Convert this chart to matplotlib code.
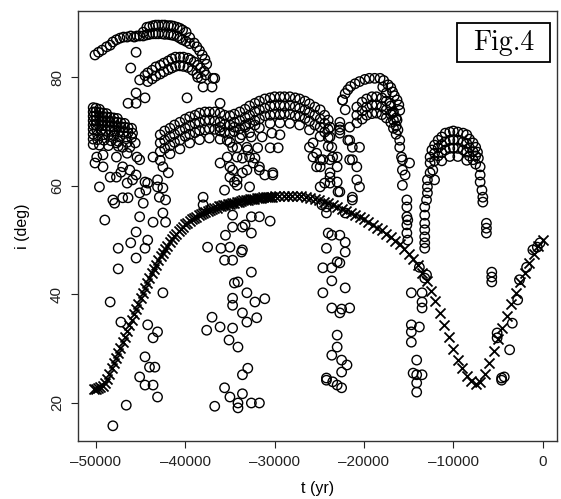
import numpy as np
import matplotlib
matplotlib.use('Agg')
import matplotlib.pyplot as plt
from matplotlib.patches import Rectangle

plt.rcParams['font.family'] = ['Liberation Sans', 'DejaVu Sans']

# crosses: (t in kyr, inclination in deg)
cross_pts = [
    (-50.25, 22.6), (-50.0, 22.6), (-49.75, 22.7), (-49.5, 22.9), (-49.25, 23.2), (-49.0, 23.7),
    (-48.75, 24.5), (-48.5, 25.4), (-48.25, 26.4), (-48.0, 27.3), (-47.75, 28.3), (-47.5, 29.2),
    (-47.25, 30.2), (-47.0, 31.2), (-46.75, 32.2), (-46.5, 33.2), (-46.25, 34.3), (-46.0, 35.3),
    (-45.75, 36.3), (-45.5, 37.3), (-45.25, 38.3), (-45.0, 39.3), (-44.75, 40.2), (-44.5, 41.2),
    (-44.25, 42.1), (-44.0, 43.0), (-43.75, 43.9), (-43.5, 44.7), (-43.25, 45.5), (-43.0, 46.3),
    (-42.75, 47.0), (-42.5, 47.7), (-42.25, 48.4), (-42.0, 49.0), (-41.75, 49.6), (-41.5, 50.2),
    (-41.25, 50.7), (-41.0, 51.2), (-40.75, 51.7), (-40.5, 52.1), (-40.25, 52.5), (-40.0, 52.9),
    (-39.75, 53.2), (-39.5, 53.5), (-39.25, 53.8), (-39.0, 54.1), (-38.75, 54.3), (-38.5, 54.6),
    (-38.25, 54.8), (-38.0, 55.0), (-37.75, 55.2), (-37.5, 55.4), (-37.25, 55.6), (-37.0, 55.7),
    (-36.75, 55.9), (-36.5, 56.0), (-36.25, 56.2), (-36.0, 56.3), (-35.75, 56.4), (-35.5, 56.5),
    (-35.25, 56.6), (-35.0, 56.7), (-34.75, 56.8), (-34.5, 56.9), (-34.25, 57.0), (-34.0, 57.1),
    (-33.75, 57.2), (-33.5, 57.3), (-33.25, 57.3), (-33.0, 57.4), (-32.75, 57.5), (-32.5, 57.6),
    (-32.25, 57.6), (-32.0, 57.7), (-31.75, 57.8), (-31.5, 57.8), (-31.25, 57.9), (-31.0, 57.9),
    (-30.75, 58.0), (-30.5, 58.0), (-30.25, 58.0), (-30.0, 58.1),
    (-29.5, 58.1), (-29.0, 58.2), (-28.5, 58.2), (-28.0, 58.2), (-27.5, 58.2), (-27.0, 58.1),
    (-26.5, 58.0), (-26.0, 57.8), (-25.5, 57.6), (-25.0, 57.4), (-24.5, 57.1), (-24.0, 56.8),
    (-23.5, 56.5), (-23.0, 56.1), (-22.5, 55.8), (-22.0, 55.4), (-21.5, 55.0), (-21.0, 54.6),
    (-20.5, 54.2), (-20.0, 53.8), (-19.5, 53.3), (-19.0, 52.8), (-18.5, 52.3), (-18.0, 51.8),
    (-17.5, 51.2), (-17.0, 50.6), (-16.5, 49.9), (-16.0, 49.2), (-15.5, 48.4), (-15.0, 47.5),
    (-14.5, 46.5), (-14.0, 45.4), (-13.5, 44.0), (-13.0, 42.4), (-12.5, 40.6), (-12.0, 38.7),
    (-11.5, 36.6), (-11.0, 34.4), (-10.5, 32.1), (-10.0, 29.9), (-9.5, 28.0), (-9.0, 26.4),
    (-8.5, 25.0), (-8.0, 24.0), (-7.5, 23.5), (-7.0, 23.9), (-6.5, 25.3), (-6.0, 27.3),
    (-5.5, 29.5), (-5.0, 31.7), (-4.5, 33.9), (-4.0, 36.1), (-3.5, 38.3), (-3.0, 40.3),
    (-2.5, 42.2), (-2.0, 44.0), (-1.5, 45.8), (-1.0, 47.4), (-0.5, 48.9), (0.0, 50.0),
]

# open circles, grouped by region
top_arc = [
    (-50.1, 84.1), (-49.7, 84.6), (-49.3, 85.0), (-48.8, 85.6), (-48.4, 85.9), (-48.1, 86.5),
    (-47.7, 86.9), (-47.3, 87.2), (-46.9, 87.4), (-46.5, 87.4), (-46.1, 87.6), (-45.7, 87.4),
    (-45.4, 87.6), (-45.1, 87.6), (-44.7, 88.3), (-44.3, 89.2),
    (-44.0, 89.3), (-43.6, 89.5), (-43.3, 89.6), (-43.0, 89.6), (-42.6, 89.6), (-42.3, 89.6),
    (-41.9, 89.5), (-41.6, 89.5), (-41.3, 89.4), (-40.9, 89.2), (-40.6, 89.0), (-40.3, 88.7), (-39.9, 88.3),
    (-44.7, 87.6), (-44.3, 87.8), (-44.0, 87.9), (-43.6, 88.0), (-43.3, 88.0), (-43.0, 88.0),
    (-42.6, 88.0), (-42.3, 87.9), (-41.9, 87.9), (-41.6, 87.8), (-41.3, 87.7), (-40.9, 87.5),
    (-40.6, 87.2), (-40.3, 86.9), (-39.9, 86.6), (-39.5, 86.2),
    (-39.5, 87.3), (-39.0, 86.3), (-38.7, 85.6), (-38.4, 84.9), (-38.1, 84.1), (-37.8, 83.3), (-37.6, 82.4),
]
second_arc = [
    (-45.1, 79.5), (-44.5, 80.3), (-44.2, 80.8), (-43.7, 81.3), (-43.3, 81.9), (-42.8, 82.2),
    (-42.4, 82.6), (-41.9, 83.0), (-41.5, 83.4), (-41.1, 83.7), (-40.6, 83.7), (-40.2, 83.7),
    (-39.7, 83.5), (-39.4, 83.2), (-39.0, 82.8), (-38.6, 82.2), (-38.3, 81.7), (-37.9, 81.1), (-37.7, 80.4),
    (-44.2, 79.2), (-43.7, 79.7), (-43.3, 80.2), (-42.8, 80.6), (-42.4, 81.0), (-41.9, 81.4),
    (-41.5, 81.7), (-41.1, 82.0), (-40.6, 82.1), (-40.2, 82.0), (-39.7, 81.8), (-39.2, 81.3),
    (-38.7, 80.6), (-38.2, 79.8),
]
upper_misc = [
    (-38.6, 80.0), (-36.9, 79.8), (-38.0, 78.2), (-37.0, 78.2), (-45.5, 84.6), (-46.1, 81.7),
    (-46.4, 75.2), (-45.5, 75.2), (-45.5, 77.1), (-44.5, 76.2), (-39.8, 76.2), (-36.1, 75.2), (-36.7, 79.8),
]
left_wedge = [
    (-50.3, 74.4), (-50.0, 74.3), (-49.6, 74.1),
    (-50.3, 73.6), (-50.0, 73.6), (-49.6, 73.5), (-49.2, 73.4), (-48.8, 73.3),
    (-50.3, 72.8), (-50.0, 72.9), (-49.6, 72.8), (-49.2, 72.7), (-48.8, 72.7), (-48.4, 72.6),
    (-48.0, 72.5), (-47.6, 72.4),
    (-50.3, 72.0), (-50.0, 72.1), (-49.6, 72.0), (-49.2, 71.9), (-48.8, 71.9), (-48.4, 71.8),
    (-48.0, 71.8), (-47.6, 71.7), (-47.2, 71.6), (-46.8, 71.5),
    (-50.3, 71.2), (-50.0, 71.2), (-49.6, 71.1), (-49.2, 71.1), (-48.8, 71.0), (-48.4, 71.0),
    (-48.0, 70.9), (-47.6, 70.9), (-47.2, 70.8), (-46.8, 70.8), (-46.4, 70.7), (-46.0, 70.6),
    (-50.3, 70.4), (-49.9, 70.3), (-49.4, 70.3), (-48.9, 70.2), (-48.4, 70.2), (-47.9, 70.1),
    (-47.4, 70.0), (-46.9, 69.9), (-46.4, 69.8), (-45.9, 69.7),
    (-50.3, 69.5), (-49.8, 69.4), (-49.2, 69.4), (-48.6, 69.3), (-48.0, 69.2), (-47.3, 69.1),
    (-46.6, 69.0), (-46.0, 68.9),
    (-50.3, 68.6), (-49.8, 68.5), (-49.1, 68.4), (-48.3, 68.3), (-47.5, 68.2), (-46.5, 68.0),
    (-50.3, 67.6), (-49.6, 67.5), (-48.6, 67.4), (-47.5, 67.3),
]
left_scatter = [
    (-49.9, 65.3), (-50.1, 64.2), (-49.2, 65.7), (-47.7, 67.9), (-47.0, 67.1), (-46.2, 67.1),
    (-45.6, 67.9), (-47.7, 65.3), (-46.5, 66.0), (-45.4, 65.3), (-49.2, 63.5), (-47.0, 63.5),
    (-46.2, 62.9), (-45.1, 64.8), (-47.7, 61.6), (-49.6, 59.8), (-48.4, 61.6), (-46.5, 60.5),
    (-45.9, 61.1), (-48.1, 57.4), (-47.0, 57.8), (-45.1, 58.7), (-44.7, 56.8), (-44.2, 60.5),
    (-43.1, 61.1), (-42.5, 59.6), (-42.9, 57.9), (-42.5, 63.5), (-43.6, 65.3), (-47.2, 62.5),
    (-45.5, 62.0), (-44.5, 60.7), (-44.4, 59.2), (-43.1, 59.8), (-41.9, 62.4), (-47.9, 56.8),
    (-46.4, 57.8), (-42.2, 57.4), (-49.0, 53.7), (-45.1, 54.3), (-43.6, 53.3), (-42.5, 55.0),
    (-42.2, 53.3), (-45.5, 51.5), (-46.1, 49.5), (-44.2, 50.0), (-47.5, 48.5), (-44.5, 48.5),
    (-45.5, 46.7), (-47.5, 44.7), (-48.4, 38.6), (-42.5, 40.3),
    (-47.2, 34.9), (-44.2, 34.4), (-43.1, 33.1), (-43.6, 32.0), (-44.5, 28.5), (-44.0, 26.6),
    (-43.4, 26.6), (-45.1, 24.8), (-44.5, 23.3), (-43.6, 23.3), (-43.1, 21.1), (-46.6, 19.6),
    (-48.1, 15.8),
]
mid_scatter = [
    (-38.0, 57.9), (-38.0, 56.5), (-35.6, 59.2), (-34.5, 60.7), (-35.0, 61.6), (-37.5, 48.7),
    (-36.0, 48.5), (-35.0, 48.7), (-35.6, 46.3), (-34.7, 46.3), (-34.5, 42.1), (-34.7, 39.3),
    (-34.7, 38.0), (-35.5, 50.9), (-33.7, 47.8), (-32.6, 44.1), (-34.1, 42.3), (-33.1, 40.3),
    (-33.6, 36.6), (-32.2, 38.6), (-31.1, 39.2), (-32.0, 35.7), (-33.1, 34.9), (-37.0, 35.8),
    (-37.6, 33.4), (-36.1, 34.0), (-34.7, 33.8), (-35.1, 31.6), (-34.1, 30.3), (-33.0, 26.4),
    (-33.6, 25.2), (-35.6, 22.8), (-35.0, 21.1), (-36.7, 19.4), (-34.1, 20.0), (-34.1, 19.1),
    (-33.6, 21.7), (-32.6, 20.0), (-31.7, 20.0), (-34.7, 54.6), (-34.7, 52.4), (-33.6, 52.4),
    (-32.6, 51.3), (-32.6, 54.3), (-31.7, 54.3), (-30.5, 53.5), (-33.3, 52.8), (-33.6, 48.2),
]
band_rows = [
    (-42.8, 69.4), (-42.3, 70.1), (-41.7, 70.6), (-41.2, 71.2), (-40.6, 71.7), (-40.0, 72.3),
    (-39.5, 72.7), (-38.9, 73.0), (-38.4, 73.4), (-37.8, 73.6), (-37.3, 73.6), (-36.7, 73.6),
    (-36.1, 73.4), (-35.6, 73.0), (-35.0, 72.9), (-34.5, 73.2), (-33.9, 73.6), (-33.3, 74.1),
    (-32.8, 74.7), (-32.2, 75.2), (-31.7, 75.6), (-31.1, 76.0), (-30.5, 76.2), (-30.0, 76.4),
    (-29.4, 76.4), (-28.9, 76.4), (-28.3, 76.4), (-27.7, 76.2), (-27.2, 76.0), (-26.6, 75.6),
    (-26.1, 75.1), (-25.5, 74.5), (-24.9, 74.0), (-24.4, 73.0), (-24.0, 72.1),
    (-42.8, 67.9), (-42.3, 68.4), (-41.7, 69.1), (-41.2, 69.5), (-40.6, 70.2), (-40.0, 70.6),
    (-39.5, 71.1), (-38.9, 71.5), (-38.4, 71.7), (-37.8, 72.0), (-37.3, 72.1), (-36.7, 71.9),
    (-36.1, 71.8), (-35.6, 71.3), (-35.0, 71.2), (-34.5, 71.7), (-33.9, 72.0), (-33.3, 72.6),
    (-32.8, 73.0), (-32.2, 73.7), (-31.7, 74.0), (-31.1, 74.3), (-30.5, 74.7), (-30.0, 74.8),
    (-29.4, 74.9), (-28.9, 74.7), (-28.3, 74.8), (-27.7, 74.6), (-27.2, 74.3), (-26.6, 74.0),
    (-26.1, 73.5), (-25.5, 73.0), (-24.9, 72.3), (-24.4, 71.5), (-24.0, 70.4),
    (-42.8, 66.3), (-42.3, 66.9), (-41.7, 67.4), (-41.2, 68.0), (-40.6, 68.4), (-40.0, 69.1),
    (-39.5, 69.5), (-38.9, 69.8), (-38.4, 70.2), (-37.8, 70.3), (-37.3, 70.5), (-36.7, 70.4),
    (-36.1, 70.1), (-35.6, 69.8), (-35.0, 69.7), (-34.5, 70.0), (-33.9, 70.5), (-33.3, 70.8),
    (-32.8, 71.5), (-32.2, 72.0), (-31.7, 72.3), (-31.1, 72.9), (-30.5, 73.0), (-30.0, 73.2),
    (-29.4, 73.1), (-28.9, 73.3), (-28.3, 73.2), (-27.7, 72.9), (-27.2, 72.8), (-26.6, 72.4),
    (-26.1, 71.9), (-25.5, 71.2), (-24.9, 70.8), (-24.4, 69.9), (-24.0, 68.9),
    (-42.8, 64.7), (-41.7, 65.9), (-40.6, 66.8), (-39.5, 67.9), (-38.4, 68.5), (-37.3, 68.8),
    (-36.1, 68.6), (-35.0, 68.0), (-33.9, 68.8), (-32.8, 69.8), (-31.7, 70.7), (-30.5, 71.5),
    (-29.4, 71.6), (-28.3, 71.5), (-27.2, 71.2), (-26.1, 70.3), (-24.9, 69.1), (-24.0, 67.3),
]
band_scatter = [
    (-36.1, 70.8), (-35.3, 68.4), (-34.7, 67.1), (-35.3, 65.3), (-34.2, 65.3), (-33.1, 67.1),
    (-32.8, 65.3), (-31.7, 62.9), (-30.2, 62.4), (-33.6, 62.4), (-35.0, 63.5), (-34.2, 61.1),
    (-32.4, 64.2), (-36.1, 64.2), (-34.5, 70.8), (-33.3, 71.2), (-32.2, 71.2), (-33.7, 69.4),
    (-32.6, 69.0), (-31.4, 69.0), (-30.3, 69.7), (-29.4, 69.4), (-34.2, 67.0), (-33.0, 66.6),
    (-31.9, 67.0), (-30.5, 67.0), (-29.6, 67.0), (-33.6, 65.1), (-32.2, 65.1), (-34.7, 62.9),
    (-33.1, 62.9), (-31.7, 63.5), (-31.1, 62.0), (-30.2, 62.0), (-34.2, 60.1), (-32.8, 59.8),
    (-26.1, 67.1), (-25.7, 65.3), (-24.9, 64.8), (-23.8, 64.8), (-25.3, 63.5),
    (-24.9, 59.8), (-24.4, 60.5), (-23.8, 60.5), (-24.2, 55.0),
]
col_23 = [
    (-25.7, 67.9), (-25.3, 66.0), (-24.6, 64.8), (-24.9, 63.5), (-23.8, 61.6), (-23.0, 60.7),
    (-22.9, 58.9), (-23.8, 70.8), (-23.8, 69.0), (-23.6, 67.1), (-23.5, 65.3), (-23.0, 63.5),
    (-24.2, 56.1), (-22.1, 55.0), (-24.0, 51.3), (-23.6, 50.9), (-22.7, 50.9), (-24.2, 48.5),
    (-22.1, 49.6), (-22.1, 47.8), (-23.0, 46.0), (-22.7, 45.8), (-24.6, 44.9), (-23.6, 44.9),
    (-23.6, 42.5), (-24.6, 40.3), (-22.1, 41.2), (-23.6, 37.5), (-22.5, 37.3), (-21.6, 37.5),
    (-22.7, 36.6), (-23.0, 32.5), (-23.0, 30.3), (-23.6, 28.8), (-22.5, 27.9), (-21.9, 27.0),
    (-22.5, 25.7), (-24.2, 24.2), (-23.5, 23.9), (-23.0, 23.3), (-22.5, 22.8), (-24.2, 24.6),
    (-24.7, 56.5),
]
arc19_left = [
    (-22.7, 70.8), (-22.7, 69.7), (-21.6, 70.8), (-21.6, 68.4), (-21.3, 67.1), (-20.5, 67.1),
    (-21.3, 64.8), (-20.8, 63.5), (-20.8, 61.1), (-20.5, 59.8), (-21.3, 57.4), (-21.8, 68.4),
    (-21.6, 64.8), (-23.0, 65.3), (-23.8, 62.4), (-21.3, 57.9), (-22.7, 58.9), (-22.4, 75.8),
    (-22.1, 74.0), (-22.7, 71.7), (-22.7, 70.3),
]
arc19 = [
    (-22.4, 75.8), (-22.1, 77.0), (-21.8, 77.7), (-21.5, 78.3), (-21.0, 78.8), (-20.5, 79.2),
    (-19.9, 79.6), (-19.4, 79.8), (-18.8, 79.8), (-18.2, 79.8), (-17.8, 79.4), (-17.3, 78.6),
    (-17.0, 78.1), (-16.8, 77.3), (-16.6, 76.6), (-16.3, 75.8), (-16.1, 74.9), (-16.0, 73.9),
    (-20.8, 74.5), (-20.2, 75.4), (-19.7, 76.0), (-19.1, 76.4), (-18.6, 76.4), (-18.0, 76.2),
    (-17.5, 75.6), (-17.0, 74.7), (-16.7, 73.6), (-16.4, 72.5),
    (-20.8, 73.0), (-20.2, 73.8), (-19.7, 74.5), (-19.1, 74.9), (-18.6, 74.9), (-18.0, 74.6),
    (-17.5, 74.0), (-17.0, 73.2), (-16.7, 72.1), (-16.4, 71.0),
    (-20.8, 71.6), (-20.2, 72.3), (-19.7, 73.0), (-19.1, 73.3), (-18.6, 73.4), (-18.0, 73.1),
    (-17.5, 72.5), (-17.0, 71.7), (-16.7, 70.6), (-16.4, 69.5),
]
arc19_right = [
    (-17.9, 78.2), (-17.5, 77.1), (-17.1, 75.2), (-16.8, 73.4), (-16.3, 72.1), (-16.2, 70.3),
    (-16.0, 68.4), (-16.0, 67.1), (-15.8, 65.3), (-15.7, 64.8), (-15.7, 62.9), (-15.4, 62.0),
    (-15.7, 60.1), (-15.2, 57.4), (-15.2, 56.1), (-14.9, 64.2), (-15.2, 54.3), (-15.2, 52.8),
    (-15.2, 51.3), (-15.1, 53.7), (-15.1, 50.0),
]
arc10 = [
    (-12.6, 65.3), (-12.4, 66.6), (-12.1, 67.5), (-11.7, 68.4), (-11.3, 69.0), (-10.9, 69.7),
    (-10.4, 69.9), (-10.0, 70.1), (-9.5, 69.9), (-8.9, 69.7), (-8.5, 69.4), (-8.2, 68.6),
    (-7.8, 67.9), (-7.5, 67.1), (-7.3, 66.2), (-7.2, 65.1), (-7.0, 63.5), (-7.0, 62.0), (-7.0, 60.7),
    (-12.1, 66.0), (-11.7, 67.0), (-11.3, 67.6), (-10.9, 68.1), (-10.4, 68.4), (-10.0, 68.5),
    (-9.5, 68.4), (-8.9, 68.1), (-8.5, 67.8), (-8.2, 67.0), (-7.8, 66.3), (-7.5, 65.5),
    (-12.1, 64.6), (-11.7, 65.5), (-11.3, 66.1), (-10.9, 66.6), (-10.4, 66.9), (-10.0, 67.0),
    (-9.5, 66.9), (-8.9, 66.6), (-8.5, 66.2), (-8.2, 65.5), (-7.8, 64.8), (-7.5, 64.0),
    (-11.3, 64.6), (-10.4, 65.4), (-9.5, 65.4), (-8.5, 64.7),
]
arc10_legs = [
    (-12.6, 64.2), (-12.6, 62.4), (-12.9, 61.1), (-12.9, 59.8), (-12.9, 58.7), (-13.0, 57.4),
    (-13.2, 56.1), (-13.2, 54.6), (-13.2, 53.1), (-13.2, 51.9), (-13.2, 50.6), (-13.2, 49.5),
    (-13.2, 48.5), (-12.3, 62.9), (-12.1, 61.1),
    (-6.8, 59.2), (-6.7, 57.9), (-6.7, 57.0), (-6.3, 53.1), (-6.3, 52.2), (-6.3, 51.3),
    (-5.7, 44.1), (-5.7, 43.2), (-5.7, 42.3),
]
low_right = [
    (-13.8, 45.0), (-13.0, 43.6), (-14.7, 40.3), (-13.5, 40.3), (-13.5, 38.6), (-13.5, 37.5),
    (-13.2, 43.0), (-14.7, 34.4), (-14.7, 33.1), (-14.7, 31.2), (-13.8, 34.0), (-14.1, 27.9),
    (-14.5, 25.5), (-14.1, 25.2), (-13.5, 25.2), (-14.1, 23.7), (-14.1, 22.0),
    (-5.1, 32.9), (-5.1, 32.0), (-3.7, 29.8), (-4.6, 24.6), (-4.3, 24.8), (-4.6, 24.2),
    (-3.4, 34.7), (-2.8, 39.0), (-2.6, 42.7), (-0.3, 49.5), (-0.6, 48.7), (-1.1, 48.2), (-1.8, 45.0),
]

x_ticks = [-50000, -40000, -30000, -20000, -10000, 0]
y_ticks = [20, 40, 60, 80]

circle_groups = [top_arc, second_arc, upper_misc, left_wedge, left_scatter, mid_scatter,
                 band_rows, band_scatter, col_23, arc19_left, arc19, arc19_right,
                 arc10, arc10_legs, low_right]
circ = np.array([p for g in circle_groups for p in g])
cross = np.array(cross_pts)

fig = plt.figure(figsize=(5.61, 4.99), dpi=100)
W, H = 561, 499
ax = fig.add_axes([78 / W, 1 - 441 / H, (557 - 78) / W, (441 - 11) / H])

ax.scatter(circ[:, 0] * 1000, circ[:, 1], s=46, facecolors='none',
           edgecolors='black', linewidths=1.0)
ax.scatter(cross[:, 0] * 1000, cross[:, 1], marker='x', s=52, c='black', linewidths=1.3)

ax.set_xlim(-52000, 1600)
ax.set_ylim(13.0, 92.2)
ax.set_xticks(x_ticks)
ax.set_xticklabels([str(v).replace('-', '\u2013') for v in x_ticks])
ax.set_yticks(y_ticks)
ax.set_yticklabels([str(v) for v in y_ticks], rotation=90, va='center')
ax.tick_params(length=5, width=0.8, pad=5, labelsize=11, colors='#222222')
for s in ax.spines.values():
    s.set_linewidth(1.0)
    s.set_color('#333333')

ax.set_xlabel('t (yr)', fontsize=11.5)
ax.set_ylabel('i (deg)', fontsize=11.5)
ax.xaxis.set_label_coords(0.5, -0.093)
ax.yaxis.set_label_coords(-0.10, 0.5)

fig.patches.append(Rectangle((457 / W, 1 - 62 / H), 93 / W, 39 / H, transform=fig.transFigure,
                             fill=False, linewidth=1.3, edgecolor='black'))
fig.text(503.5 / W, 1 - 43 / H, 'Fig.4', ha='center', va='center',
         fontfamily='cmr10', fontsize=20)

fig.savefig('out.png', dpi=100)
